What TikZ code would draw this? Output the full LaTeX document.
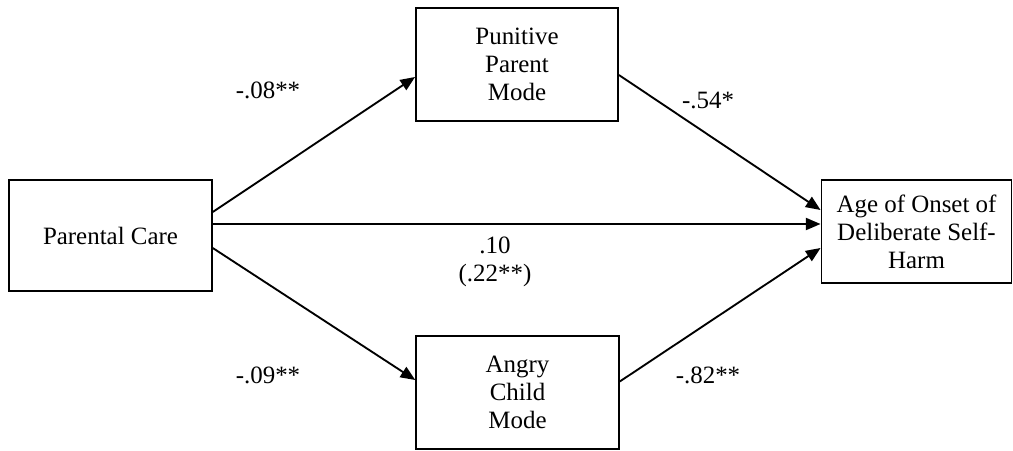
\documentclass[tikz,border=0pt]{standalone}
\usepackage{fontspec}
\setmainfont{Liberation Serif}
\usetikzlibrary{arrows.meta,calc}
\begin{document}
\begin{tikzpicture}[x=0.75pt,y=-0.75pt,
  box/.style={draw,line width=1.4pt,align=center,inner sep=0pt,
    font=\fontsize{18.7}{21}\selectfont},
  lbl/.style={align=center,inner sep=0pt,font=\fontsize{18.7}{21}\selectfont},
  conn/.style={line width=1.4pt,-{Triangle[length=11pt,width=9pt]}}]
\useasboundingbox (0,0) rectangle (1013,450);
\node[box,minimum width=152pt,minimum height=83pt] (pc) at (110.5,235.5) {Parental Care};
\node[box,minimum width=151.5pt,minimum height=85pt] (pp) at (517,64.5) {Punitive\\Parent\\Mode};
\node[box,minimum width=152pt,minimum height=85pt] (ac) at (517.5,392.5) {Angry\\Child\\Mode};
\node[box,minimum width=142.5pt,minimum height=77pt] (age) at (916.5,231.5) {Age of Onset of\\Deliberate Self-\\Harm};
\draw[conn] ($(pc.east)+(0,-23.5)$) -- ($(pp.west)+(0,12.5)$);
\draw[conn] ($(pp.east)+(0,10.5)$) -- ($(age.west)+(0,-21.5)$);
\draw[conn] ($(pc.east)+(0,-11.5)$) -- ($(age.west)+(0,-7.5)$);
\draw[conn] ($(pc.east)+(0,12.5)$) -- ($(ac.west)+(0,-12.5)$);
\draw[conn] ($(ac.east)+(0,-11)$) -- ($(age.west)+(0,16.5)$);
\node[lbl] (l1) at (268,90) {-.08**};
\node[lbl] (l2) at (708,100) {-.54*};
\node[lbl] (l3) at (495,262) {.10\\(.22**)};
\node[lbl] (l4) at (268,375) {-.09**};
\node[lbl] (l5) at (708,375) {-.82**};
\end{tikzpicture}
\end{document}
